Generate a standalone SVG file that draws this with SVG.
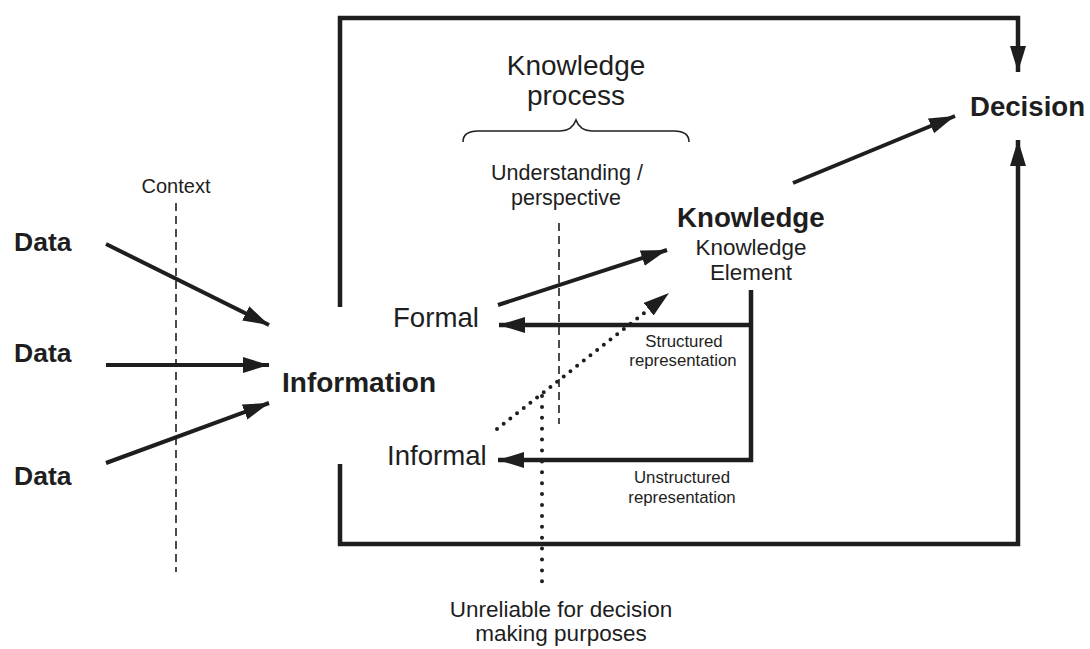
<svg xmlns="http://www.w3.org/2000/svg" width="1090" height="649" viewBox="0 0 1090 649">
  <style>
    text { font-family: "Liberation Sans", Arial, sans-serif; fill: #1e1e1e; }
    .b { font-weight: bold; }
    .heavy { fill: none; stroke: #1e1e1e; stroke-width: 4.5; }
    .arrow { fill: none; stroke: #1e1e1e; stroke-width: 4; }
    .dash { fill: none; stroke: #1e1e1e; stroke-width: 1.6; stroke-dasharray: 8 5; }
    .dots { fill: none; stroke: #1e1e1e; stroke-width: 4; stroke-linecap: round; }
    .brace { fill: none; stroke: #1e1e1e; stroke-width: 1.6; }
  </style>
  <defs>
    <marker id="head" markerUnits="userSpaceOnUse" markerWidth="28" markerHeight="18" refX="26" refY="8" orient="auto">
      <path d="M0,0 L26,8 L0,16 Z" fill="#1e1e1e"/>
    </marker>
  </defs>

  <rect width="1090" height="649" fill="#ffffff"/>

  <!-- guide lines -->
  <g id="guides">
    <text x="176" y="193" font-size="20" text-anchor="middle">Context</text>
    <line class="dash" x1="176" y1="203" x2="176" y2="572"/>
    <line class="dash" x1="559" y1="223" x2="559" y2="424"/>
  </g>

  <!-- connectors -->
  <g id="connectors">
    <path class="heavy" d="M340,307 V18 H1018 V72" marker-end="url(#head)"/>
    <path class="heavy" d="M340,464 V544 H1018 V140" marker-end="url(#head)"/>
    <line class="arrow" x1="106" y1="244" x2="269" y2="325" marker-end="url(#head)"/>
    <line class="arrow" x1="106" y1="365" x2="269" y2="365" marker-end="url(#head)"/>
    <line class="arrow" x1="106" y1="463" x2="269" y2="403" marker-end="url(#head)"/>
    <line class="arrow" x1="498" y1="305" x2="667" y2="250" marker-end="url(#head)"/>
    <line class="arrow" x1="793" y1="183" x2="955" y2="116" marker-end="url(#head)"/>
    <path class="heavy" d="M751,290 V460 H498" marker-end="url(#head)"/>
    <line class="heavy" x1="751" y1="325" x2="499" y2="325" marker-end="url(#head)"/>
    <line class="dots" x1="497" y1="429" x2="648" y2="310" stroke-dasharray="0 8.5"/>
    <line x1="645" y1="312" x2="669" y2="293" stroke="none" marker-end="url(#head)"/>
    <line class="dots" x1="542" y1="396" x2="542" y2="592" stroke-dasharray="0 10.9"/>
  </g>

  <g id="data1"><text class="b" x="14" y="251" font-size="26.5">Data</text></g>
  <g id="data2"><text class="b" x="14" y="362" font-size="26.5">Data</text></g>
  <g id="data3"><text class="b" x="14" y="485" font-size="26.5">Data</text></g>

  <g id="information"><text class="b" x="282" y="392" font-size="28">Information</text></g>

  <g id="formal"><text x="393" y="327" font-size="27.6">Formal</text></g>
  <g id="informal"><text x="387" y="465" font-size="27.6">Informal</text></g>

  <g id="knowledge-process">
    <text x="576" y="75" font-size="28" text-anchor="middle">Knowledge</text>
    <text x="576" y="105" font-size="28" text-anchor="middle">process</text>
    <path class="brace" d="M463,142 Q463,131 478,131 L560,131 Q572,131 576,120 Q580,131 592,131 L674,131 Q689,131 689,142"/>
  </g>

  <g id="understanding">
    <text x="567" y="180" font-size="21.5" text-anchor="middle">Understanding /</text>
    <text x="566" y="205" font-size="21.5" text-anchor="middle">perspective</text>
  </g>

  <g id="knowledge">
    <text class="b" x="677" y="227" font-size="27.7">Knowledge</text>
    <text x="751" y="255" font-size="22.4" text-anchor="middle">Knowledge</text>
    <text x="751" y="280" font-size="22.4" text-anchor="middle">Element</text>
  </g>

  <g id="decision"><text class="b" x="970" y="116" font-size="27.6">Decision</text></g>

  <g id="structured">
    <text x="684" y="347" font-size="16.8" text-anchor="middle">Structured</text>
    <text x="683" y="366" font-size="16.8" text-anchor="middle">representation</text>
  </g>

  <g id="unstructured">
    <text x="682" y="483" font-size="16.8" text-anchor="middle">Unstructured</text>
    <text x="682" y="503" font-size="16.8" text-anchor="middle">representation</text>
  </g>

  <g id="unreliable">
    <text x="561" y="617" font-size="22.5" text-anchor="middle">Unreliable for decision</text>
    <text x="561" y="641" font-size="22.5" text-anchor="middle">making purposes</text>
  </g>
</svg>
